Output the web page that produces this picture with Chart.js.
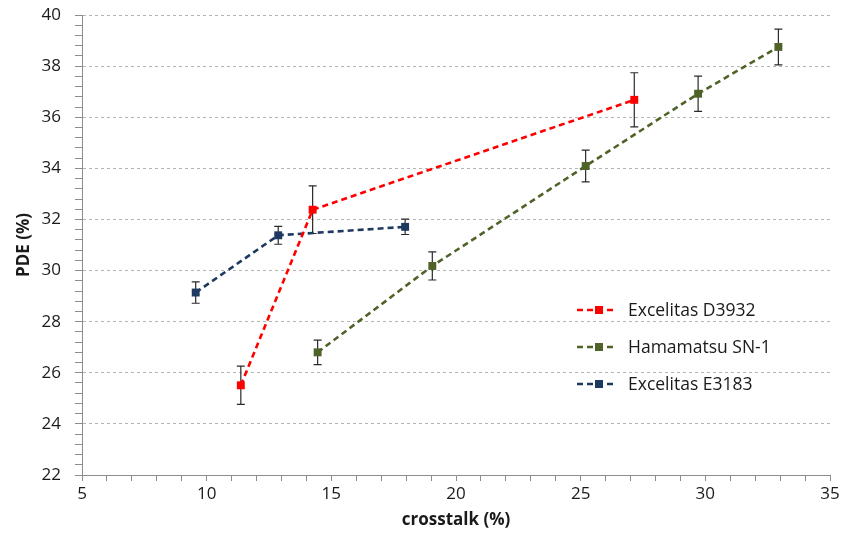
<!DOCTYPE html>
<html>
<head>
<meta charset="utf-8">
<script src="https://cdn.jsdelivr.net/npm/chart.js@4"></script>
<style>
  html, body { margin: 0; padding: 0; background: #fff; }
  #wrap { width: 849px; height: 544px; position: relative; }
</style>
</head>
<body>
<div id="wrap"><canvas id="c" width="849" height="544"></canvas></div>
<script>
// ---- data ----
const seriesNames = ['Excelitas D3932', 'Hamamatsu SN-1', 'Excelitas E3183'];
const seriesColors = ['#ff0000', '#4f6228', '#1f3a60'];

const d3932X   = [11.37, 14.25, 27.15];
const d3932Y   = [25.51, 32.38, 36.68];
const d3932Err = [0.75, 0.93, 1.06];

const snX   = [14.45, 19.05, 25.2, 29.71, 32.93];
const snY   = [26.8, 30.18, 34.09, 36.92, 38.75];
const snErr = [0.48, 0.55, 0.62, 0.69, 0.7];

const e3183X   = [9.56, 12.87, 17.96];
const e3183Y   = [29.14, 31.38, 31.71];
const e3183Err = [0.42, 0.35, 0.3];

const xMin = 5, xMax = 35, xMajor = 5, xMinor = 1;
const yMin = 22, yMax = 40, yMajor = 2, yMinor = 0.4;
const xTitle = 'crosstalk (%)';
const yTitle = 'PDE (%)';

const FONT = "'Open Sans', 'DejaVu Sans', sans-serif";

function pts(xs, ys) { return xs.map((x, i) => ({x: x, y: ys[i]})); }
const errs = [d3932Err, snErr, e3183Err];

function mkDataset(i, xs, ys) {
  return {
    label: seriesNames[i],
    data: pts(xs, ys),
    borderColor: seriesColors[i],
    backgroundColor: seriesColors[i],
    borderWidth: 2.6,
    borderDash: [6, 4],
    pointStyle: 'rect',
    pointRadius: 5.6,
    pointHoverRadius: 5.6,
    pointBorderWidth: 0,
    showLine: true,
    tension: 0,
    fill: false
  };
}

function isMult(v, step) { return Math.abs(v / step - Math.round(v / step)) < 1e-6; }
function buildTicks(min, max, step) {
  const t = [];
  const n = Math.round((max - min) / step);
  for (let k = 0; k <= n; k++) t.push({value: Math.round((min + k * step) * 1000) / 1000});
  return t;
}

const errorBars = {
  id: 'errorBars',
  beforeDatasetsDraw(chart) {
    const ctx = chart.ctx;
    const xs = chart.scales.x, ys = chart.scales.y;
    ctx.save();
    ctx.strokeStyle = '#2a2a2a';
    ctx.lineWidth = 1.2;
    chart.data.datasets.forEach((ds, i) => {
      ds.data.forEach((p, j) => {
        const e = errs[i][j];
        const px = xs.getPixelForValue(p.x);
        const top = ys.getPixelForValue(p.y + e);
        const bot = ys.getPixelForValue(p.y - e);
        ctx.beginPath();
        ctx.moveTo(px, top); ctx.lineTo(px, bot);
        ctx.moveTo(px - 4, top); ctx.lineTo(px + 4, top);
        ctx.moveTo(px - 4, bot); ctx.lineTo(px + 4, bot);
        ctx.stroke();
      });
    });
    ctx.restore();
  }
};

const legendBox = {
  id: 'legendBox',
  afterDraw(chart) {
    const ctx = chart.ctx;
    const x0 = 577, y0 = 310, gap = 37;
    ctx.save();
    chart.data.datasets.forEach((ds, i) => {
      const y = y0 + i * gap;
      ctx.strokeStyle = ds.borderColor;
      ctx.lineWidth = 2.6;
      ctx.setLineDash([6, 4]);
      ctx.beginPath();
      ctx.moveTo(x0, y); ctx.lineTo(x0 + 37, y);
      ctx.stroke();
      ctx.setLineDash([]);
      ctx.fillStyle = ds.backgroundColor;
      ctx.fillRect(x0 + 18, y - 4, 8, 8);
      ctx.fillStyle = '#1a1a1a';
      ctx.font = '17.5px ' + FONT;
      ctx.textBaseline = 'middle';
      ctx.textAlign = 'left';
      ctx.fillText(ds.label, x0 + 51, y + 1);
    });
    ctx.restore();
  }
};

new Chart(document.getElementById('c'), {
  type: 'scatter',
  data: {
    datasets: [
      mkDataset(0, d3932X, d3932Y),
      mkDataset(1, snX, snY),
      mkDataset(2, e3183X, e3183Y)
    ]
  },
  options: {
    responsive: false,
    animation: false,
    events: [],
    layout: { padding: { left: 14, right: 19, top: 15, bottom: 14 } },
    plugins: {
      legend: { display: false },
      tooltip: { enabled: false }
    },
    scales: {
      x: {
        type: 'linear',
        min: xMin, max: xMax,
        afterBuildTicks(s) { s.ticks = buildTicks(xMin, xMax, xMinor); },
        afterFit(s) { s.height = 55; s.paddingLeft = 0; s.paddingRight = 0; },
        ticks: {
          autoSkip: false, maxRotation: 0, padding: 3,
          color: '#1a1a1a',
          font: { family: FONT, size: 17 },
          callback(v) { return isMult(v, xMajor) ? String(v) : ''; }
        },
        grid: {
          drawOnChartArea: false,
          drawTicks: true,
          tickLength: 6,
          tickColor: '#8c8c8c',
          tickWidth: 1
        },
        border: { display: true, color: '#8c8c8c', width: 1 },
        title: {
          display: true, text: xTitle, color: '#1a1a1a',
          font: { family: FONT, size: 17, weight: 'bold' },
          padding: { top: 2, bottom: 0 }
        }
      },
      y: {
        type: 'linear',
        min: yMin, max: yMax,
        afterBuildTicks(s) { s.ticks = buildTicks(yMin, yMax, yMinor); },
        afterFit(s) { s.width = 68; s.paddingTop = 0; s.paddingBottom = 0; },
        ticks: {
          autoSkip: false, padding: 14,
          color: '#1a1a1a',
          font: { family: FONT, size: 17 },
          callback(v) { return isMult(v, yMajor) ? String(v) : ''; }
        },
        grid: {
          drawTicks: true,
          tickLength: 7,
          tickColor: '#8c8c8c',
          color(ctx) {
            const v = ctx.tick ? ctx.tick.value : null;
            if (v === null || !isMult(v, yMajor) || v === yMin) return 'rgba(0,0,0,0)';
            return '#b4b4b4';
          },
          lineWidth: 1
        },
        border: { display: true, color: '#8c8c8c', width: 1, dash: [3, 3] },
        title: {
          display: true, text: yTitle, color: '#1a1a1a',
          font: { family: FONT, size: 17, weight: 'bold' },
          padding: { top: 0, bottom: 4 }
        }
      }
    }
  },
  plugins: [errorBars, legendBox]
});
</script>
</body>
</html>
